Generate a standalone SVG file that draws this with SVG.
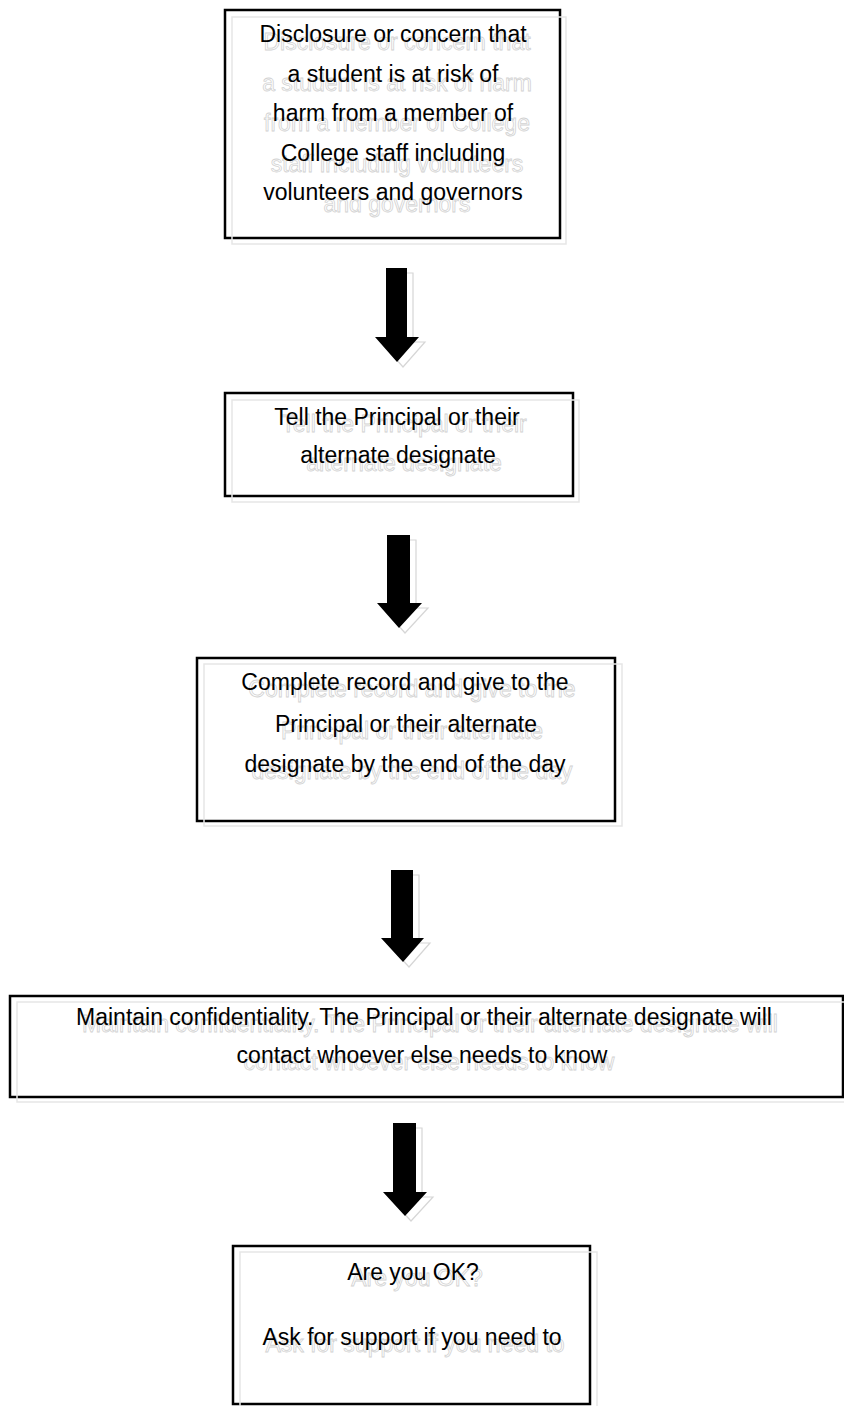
<svg xmlns="http://www.w3.org/2000/svg" width="844" height="1406" viewBox="0 0 844 1406">
  <style>
    .box { fill: #ffffff; stroke: #000000; stroke-width: 2.5; }
    .boxshadow { fill: none; stroke: #e6e6e6; stroke-width: 1.5; }
    .t { font-family: "Liberation Sans", Arial, sans-serif; font-size: 23px; fill: #000000; text-anchor: middle; }
    .ghost { font-family: "Liberation Sans", Arial, sans-serif; font-size: 23px; fill: #ffffff; stroke: #d2d2d2; stroke-width: 0.8; text-anchor: middle; }
    .arrow { fill: #000000; stroke: none; }
    .arrowshadow { fill: #ffffff; stroke: #d6d6d6; stroke-width: 1.2; }
  </style>
  <rect width="844" height="1406" fill="#ffffff"/>

  <g id="connectors">
    <g id="arrow1">
      <polygon class="arrowshadow" transform="translate(6,5)" points="386,268 407,268 407,337 419,337 397,362 375,337 386,337"/>
      <polygon class="arrow" points="386,268 407,268 407,337 419,337 397,362 375,337 386,337"/>
    </g>
    <g id="arrow2">
      <polygon class="arrowshadow" transform="translate(6,5)" points="387,535 410,535 410,603 422,603 399,628 377,603 387,603"/>
      <polygon class="arrow" points="387,535 410,535 410,603 422,603 399,628 377,603 387,603"/>
    </g>
    <g id="arrow3">
      <polygon class="arrowshadow" transform="translate(6,5)" points="391,870 413,870 413,938 424,938 403,962 381,938 391,938"/>
      <polygon class="arrow" points="391,870 413,870 413,938 424,938 403,962 381,938 391,938"/>
    </g>
    <g id="arrow4">
      <polygon class="arrowshadow" transform="translate(6,5)" points="393,1123 416,1123 416,1192 427,1192 405,1216 383,1192 393,1192"/>
      <polygon class="arrow" points="393,1123 416,1123 416,1192 427,1192 405,1216 383,1192 393,1192"/>
    </g>
  </g>

  <g id="node1">
    <rect class="box" x="225" y="10" width="335" height="228"/>
    <rect class="boxshadow" x="232" y="17" width="334" height="227"/>
    <g class="ghost">
      <text x="397" y="50">Disclosure or concern that</text>
      <text x="397" y="90.5">a student is at risk of harm</text>
      <text x="397" y="131">from a member of College</text>
      <text x="397" y="171.5">staff including volunteers</text>
      <text x="397" y="212">and governors</text>
    </g>
    <g class="t">
      <text x="393" y="42">Disclosure or concern that</text>
      <text x="393" y="81.5">a student is at risk of</text>
      <text x="393" y="121">harm from a member of</text>
      <text x="393" y="160.5">College staff including</text>
      <text x="393" y="200">volunteers and governors</text>
    </g>
  </g>

  <g id="node2">
    <rect class="box" x="225" y="393" width="348" height="103"/>
    <rect class="boxshadow" x="232" y="400" width="347" height="102"/>
    <g class="ghost">
      <text x="404" y="432">Tell the Principal or their</text>
      <text x="404" y="471">alternate designate</text>
    </g>
    <g class="t">
      <text x="397" y="425">Tell the Principal or their</text>
      <text x="398" y="463">alternate designate</text>
    </g>
  </g>

  <g id="node3">
    <rect class="box" x="197" y="658" width="418" height="163"/>
    <rect class="boxshadow" x="204" y="664" width="418" height="162"/>
    <g class="ghost">
      <text x="412" y="697">Complete record and give to the</text>
      <text x="412" y="739">Principal or their alternate</text>
      <text x="412" y="779">designate by the end of the day</text>
    </g>
    <g class="t">
      <text x="405" y="690">Complete record and give to the</text>
      <text x="406" y="732">Principal or their alternate</text>
      <text x="405" y="772">designate by the end of the day</text>
    </g>
  </g>

  <g id="node4">
    <rect class="box" x="10" y="996" width="833" height="101"/>
    <rect class="boxshadow" x="17" y="1002" width="833" height="100"/>
    <g class="ghost">
      <text x="430" y="1032">Maintain confidentiality. The Principal or their alternate designate will</text>
      <text x="429" y="1070">contact whoever else needs to know</text>
    </g>
    <g class="t">
      <text x="424" y="1025">Maintain confidentiality. The Principal or their alternate designate will</text>
      <text x="422" y="1063">contact whoever else needs to know</text>
    </g>
  </g>

  <g id="node5">
    <rect class="box" x="233" y="1246" width="357" height="158"/>
    <rect class="boxshadow" x="240" y="1252" width="357" height="160"/>
    <g class="ghost">
      <text x="417" y="1286">Are you OK?</text>
      <text x="415" y="1352">Ask for support if you need to</text>
    </g>
    <g class="t">
      <text x="413" y="1280">Are you OK?</text>
      <text x="412" y="1345">Ask for support if you need to</text>
    </g>
  </g>
</svg>
